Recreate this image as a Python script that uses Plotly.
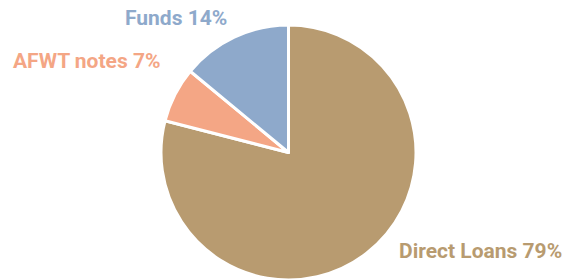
import math
import plotly.graph_objects as go

labels = ["Direct Loans", "AFWT notes", "Funds"]
values = [79, 7, 14]
colors = ["#B89B70", "#F4A685", "#8EA9CB"]

W, H = 575, 280
OFFSET = 8          # page body margin compensation (px)
CX, CY, R = 288.5 - OFFSET, 152.5 - OFFSET, 127.5
LABEL_GAP = 15      # radial distance of label anchor beyond rim (px)
# small pixel nudges for label placement (dx, dy), style only
nudges = [(22.5, -14.0), (0.0, -27.0), (0.0, -5.3)]

fig = go.Figure(go.Pie(
    labels=labels,
    values=values,
    sort=False,
    direction="clockwise",
    rotation=0,
    marker=dict(colors=colors, line=dict(color="white", width=3)),
    textinfo="none",
    domain=dict(x=[(CX - R) / W, (CX + R) / W], y=[1 - (CY + R) / H, 1 - (CY - R) / H]),
    hoverinfo="label+percent",
    showlegend=False,
))

total = sum(values)
cum = 0
for lab, val, col, (ndx, ndy) in zip(labels, values, colors, nudges):
    mid = (cum + val / 2) / total * 2 * math.pi
    cum += val
    px = CX + (R + LABEL_GAP) * math.sin(mid) + ndx
    py = CY - (R + LABEL_GAP) * math.cos(mid) + ndy
    right_side = math.sin(mid) > 0
    fig.add_annotation(
        x=px / W, y=1 - py / H, xref="paper", yref="paper",
        text=f"{lab} {val}%", showarrow=False,
        xanchor="left" if right_side else "right", yanchor="middle",
        font=dict(family="Roboto", size=21, color=col, weight="bold"),
        borderpad=0,
    )

fig.update_layout(
    width=W, height=H,
    margin=dict(l=0, r=0, t=0, b=0, autoexpand=False),
    paper_bgcolor="white",
    plot_bgcolor="white",
)
fig.write_html("out.html")
